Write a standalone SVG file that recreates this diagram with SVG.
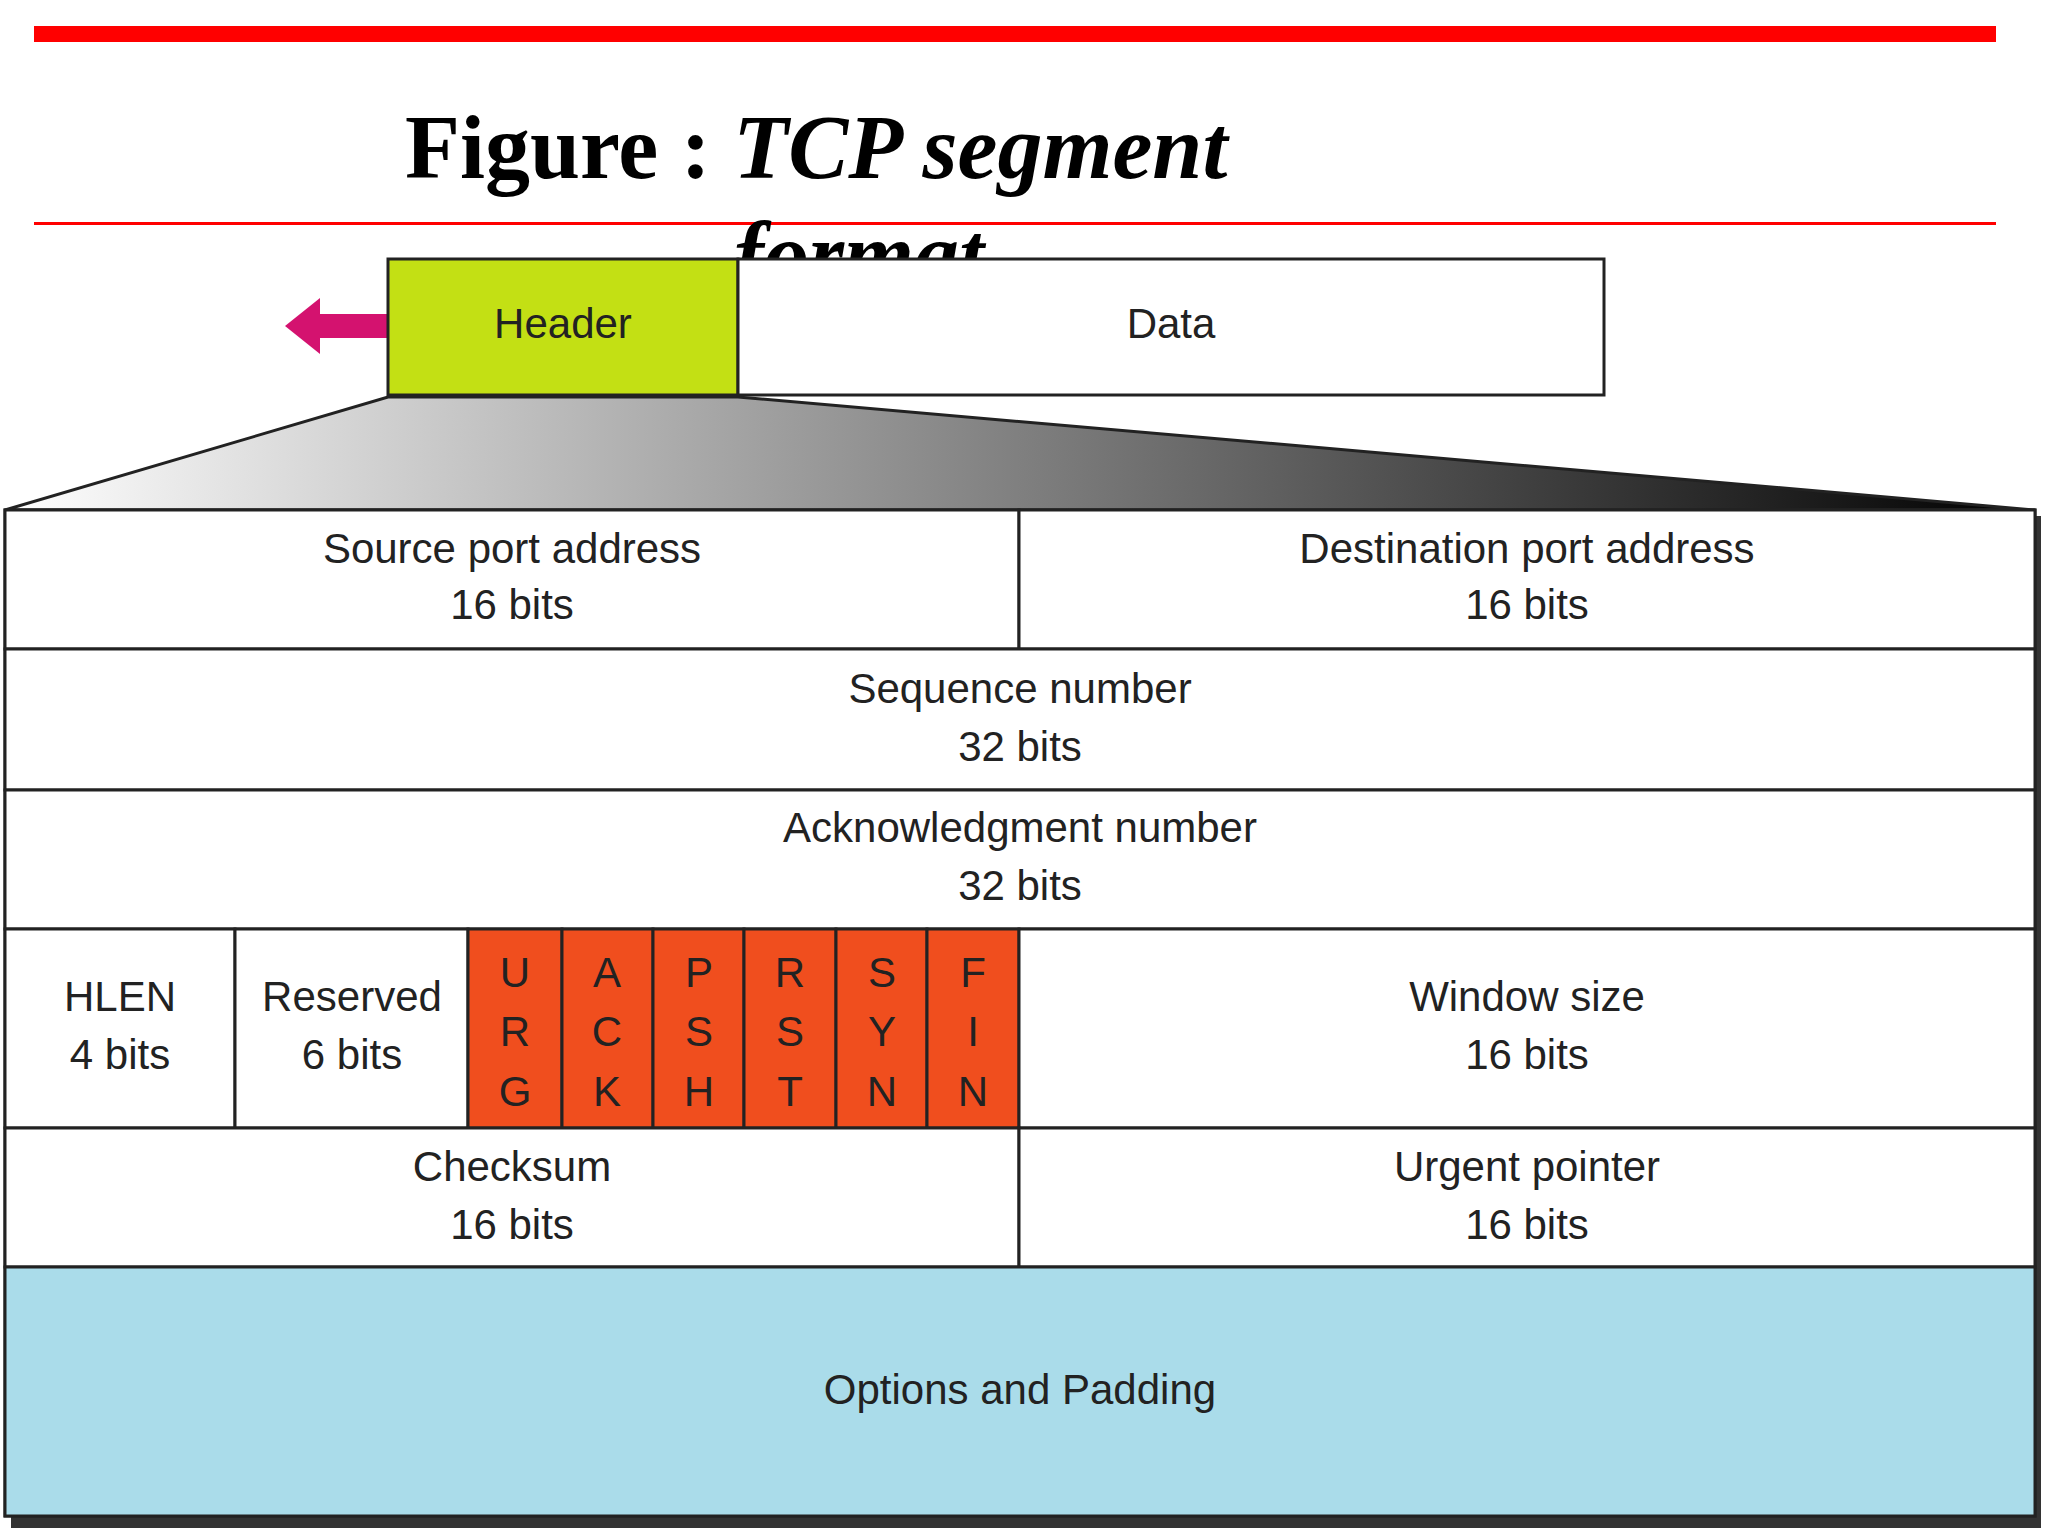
<svg xmlns="http://www.w3.org/2000/svg" width="2048" height="1536" viewBox="0 0 2048 1536">
<defs>
<linearGradient id="g" x1="0" y1="0" x2="1" y2="0"><stop offset="0" stop-color="#fff"/><stop offset="1" stop-color="#000"/></linearGradient>
</defs>
<style>
.t{font-family:"Liberation Sans",Arial,sans-serif;font-size:42px;fill:#222;text-anchor:middle;dominant-baseline:middle}
.c{stroke:#222;stroke-width:3}
</style>
<rect width="2048" height="1536" fill="#fff"/>
<rect x="34" y="26" width="1962" height="16" fill="#f00"/>
<rect x="34" y="222" width="1962" height="3" fill="#f00"/>
<text x="405" y="178" font-family="Liberation Serif,serif" font-size="90" font-weight="bold">Figure   :  <tspan font-style="italic">TCP segment</tspan></text>
<text x="734" y="285" font-family="Liberation Serif,serif" font-size="90" font-weight="bold" font-style="italic">format</text>
<polygon points="388,397 738,397 2035,510 5,510" fill="url(#g)" stroke="#222" stroke-width="3"/>
<g id="arrow"><polygon points="285,326 320,298 320,314 390,314 390,338 320,338 320,354" fill="#d4126f"/></g>
<g id="header"><rect x="388" y="259" width="350" height="136" fill="#c3e014" class="c"/><text class="t" x="563" y="327">Header</text></g>
<g id="data"><rect x="738" y="259" width="866" height="136" fill="#fff" class="c"/><text class="t" x="1171" y="327">Data</text></g>
<rect x="11" y="516" width="2030" height="1012" fill="#333"/>
<g id="table">
<rect x="5" y="510" width="2030" height="1006" fill="#fff" class="c"/>
<g id="src"><rect x="5" y="510" width="1014" height="139" fill="#fff" class="c"/><text class="t" x="512" y="552">Source port address</text><text class="t" x="512" y="608">16 bits</text></g>
<g id="dst"><rect x="1019" y="510" width="1016" height="139" fill="#fff" class="c"/><text class="t" x="1527" y="552">Destination port address</text><text class="t" x="1527" y="608">16 bits</text></g>
<g id="seq"><rect x="5" y="649" width="2030" height="141" fill="#fff" class="c"/><text class="t" x="1020" y="692">Sequence number</text><text class="t" x="1020" y="750">32 bits</text></g>
<g id="ack"><rect x="5" y="790" width="2030" height="139" fill="#fff" class="c"/><text class="t" x="1020" y="831">Acknowledgment number</text><text class="t" x="1020" y="889">32 bits</text></g>
<g id="hlen"><rect x="5" y="929" width="230" height="199" fill="#fff" class="c"/><text class="t" x="120" y="1000">HLEN</text><text class="t" x="120" y="1058">4 bits</text></g>
<g id="res"><rect x="235" y="929" width="233" height="199" fill="#fff" class="c"/><text class="t" x="352" y="1000">Reserved</text><text class="t" x="352" y="1058">6 bits</text></g>
<g id="flags" fill="#f04e1e">
<rect x="468" y="929" width="94" height="199" class="c"/><rect x="562" y="929" width="91" height="199" class="c"/><rect x="653" y="929" width="91" height="199" class="c"/><rect x="744" y="929" width="92" height="199" class="c"/><rect x="836" y="929" width="91" height="199" class="c"/><rect x="927" y="929" width="92" height="199" class="c"/>
<text class="t" x="515" y="976">U</text><text class="t" x="515" y="1035">R</text><text class="t" x="515" y="1095">G</text>
<text class="t" x="607" y="976">A</text><text class="t" x="607" y="1035">C</text><text class="t" x="607" y="1095">K</text>
<text class="t" x="699" y="976">P</text><text class="t" x="699" y="1035">S</text><text class="t" x="699" y="1095">H</text>
<text class="t" x="790" y="976">R</text><text class="t" x="790" y="1035">S</text><text class="t" x="790" y="1095">T</text>
<text class="t" x="882" y="976">S</text><text class="t" x="882" y="1035">Y</text><text class="t" x="882" y="1095">N</text>
<text class="t" x="973" y="976">F</text><text class="t" x="973" y="1035">I</text><text class="t" x="973" y="1095">N</text>
</g>
<g id="win"><rect x="1019" y="929" width="1016" height="199" fill="#fff" class="c"/><text class="t" x="1527" y="1000">Window size</text><text class="t" x="1527" y="1058">16 bits</text></g>
<g id="chk"><rect x="5" y="1128" width="1014" height="139" fill="#fff" class="c"/><text class="t" x="512" y="1170">Checksum</text><text class="t" x="512" y="1228">16 bits</text></g>
<g id="urg"><rect x="1019" y="1128" width="1016" height="139" fill="#fff" class="c"/><text class="t" x="1527" y="1170">Urgent pointer</text><text class="t" x="1527" y="1228">16 bits</text></g>
<g id="opt"><rect x="5" y="1267" width="2030" height="249" fill="#aadcea" class="c"/><text class="t" x="1020" y="1393">Options and Padding</text></g>
</g>
</svg>
